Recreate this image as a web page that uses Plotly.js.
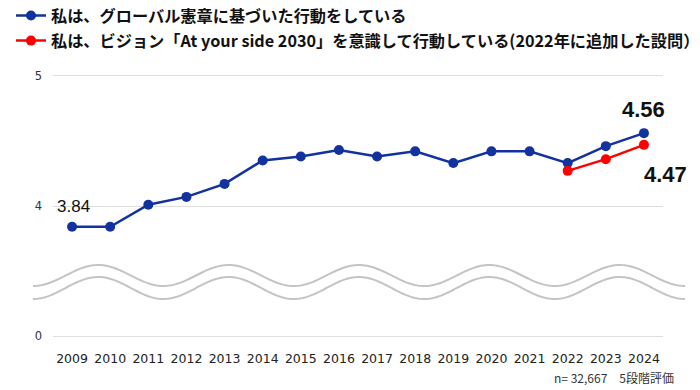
<!DOCTYPE html>
<html>
<head>
<meta charset="utf-8">
<script src="https://cdn.plot.ly/plotly-3.0.1.min.js"></script>
<style>html,body{margin:0;padding:0;background:#fff;}#chart{width:700px;height:390px;}</style>
</head>
<body>
<div id="chart"></div>
<script>
const years = [2009,2010,2011,2012,2013,2014,2015,2016,2017,2018,2019,2020,2021,2022,2023,2024];
const charterValues = [3.84,3.84,4.01,4.07,4.17,4.35,4.38,4.43,4.38,4.42,4.33,4.42,4.42,4.33,4.46,4.56];
const visionYears = [2022,2023,2024];
const visionValues = [4.27,4.36,4.47];
const charterName = '私は、グローバル憲章に基づいた行動をしている';
const visionName = '私は、ビジョン「At your side 2030」を意識して行動している(2022年に追加した設問）';
const yTickVals = [3,4,5];
const yTickText = ['0','4','5'];
const footnote = 'n= 32,667　5段階評価';

const blue = '#1232a0';
const red = '#ff0000';

// plot-area geometry (pixels) used for paper-coordinate decorations
const W = 700, H = 390;
const M = {l:53, r:37, t:72, b:50, autoexpand:false};
const pw = W - M.l - M.r, ph = H - M.t - M.b;
function px2x(p){ return (p - M.l)/pw; }
function px2y(p){ return (H - M.b - p)/ph; }

// axis-break wave decoration
function wavePath(cy, amp, x0, x1, period){
  let d = '';
  for (let p = x0; p <= x1 + 0.01; p += 2){
    const yy = cy + amp*Math.cos(2*Math.PI*(p - x0)/period);
    d += (d ? ' L ' : 'M ') + px2x(p).toFixed(5) + ',' + px2y(yy).toFixed(5);
  }
  return d;
}
const waveColor = '#c4c4c4';
const shapes = [
  {type:'path', xref:'paper', yref:'paper', path: wavePath(275.5, 10.5, 33, 685, 130.4), line:{color:waveColor, width:2}},
  {type:'path', xref:'paper', yref:'paper', path: wavePath(288, 11, 33, 685, 130.4), line:{color:waveColor, width:2}}
];

const traces = [
  {x: years, y: charterValues, name: charterName, type:'scatter', mode:'lines+markers',
   line:{color:blue, width:2.5}, marker:{color:blue, size:10}, hoverinfo:'x+y', legendgroup:'a'},
  {x: visionYears, y: visionValues, name: visionName, type:'scatter', mode:'lines+markers',
   line:{color:red, width:2.5}, marker:{color:red, size:10}, hoverinfo:'x+y', legendgroup:'b'}
];

const last = charterValues.length - 1;
const annotations = [
  {x: years[0], y: charterValues[0], text: charterValues[0].toFixed(2), showarrow:false, yshift:20, xshift:1,
   font:{family:'Liberation Sans, Arial, sans-serif', size:17, color:'#111'}},
  {x: years[last], y: charterValues[last], text: charterValues[last].toFixed(2), showarrow:false, yshift:24,
   font:{family:'Liberation Sans, Arial, sans-serif', size:22, color:'#111', weight:'bold'}},
  {x: visionYears[visionYears.length-1], y: visionValues[visionValues.length-1], text: visionValues[visionValues.length-1].toFixed(2), showarrow:false, yshift:-30, xshift:22,
   font:{family:'Liberation Sans, Arial, sans-serif', size:22, color:'#111', weight:'bold'}},
  {xref:'paper', yref:'paper', x: px2x(676), y: px2y(377), xanchor:'right', yanchor:'middle', text: footnote, showarrow:false,
   font:{family:'Noto Sans CJK JP, sans-serif', size:12, color:'#333'}}
];

const layout = {
  width: W, height: H,
  margin: M,
  paper_bgcolor:'#fff', plot_bgcolor:'#fff',
  showlegend:true,
  legend:{x: px2x(11), y: px2y(-1.5), xanchor:'left', yanchor:'top', xref:'paper', yref:'paper',
    font:{family:'Noto Sans CJK JP, sans-serif', size:16.2, color:'#111', weight:'bold'},
    bgcolor:'rgba(0,0,0,0)', tracegroupgap:1, traceorder:'grouped'},
  xaxis:{type:'linear', range:[2008.5, 2024.5], tickvals: years, ticktext: years.map(String),
    showgrid:false, zeroline:false, showline:false, ticks:'', ticklabelstandoff:9,
    tickfont:{family:'DejaVu Sans, sans-serif', size:12.5, color:'#222'}, fixedrange:true},
  yaxis:{range:[2.97,5.03], tickvals:yTickVals, ticktext:yTickText, showgrid:true, gridcolor:'#dedede', gridwidth:1,
    zeroline:false, showline:false, ticks:'', ticklabelstandoff:10,
    tickfont:{family:'DejaVu Sans, sans-serif', size:11.5, color:'#333'}, fixedrange:true},
  shapes: shapes,
  annotations: annotations
};

Plotly.newPlot('chart', traces, layout, {displayModeBar:false, staticPlot:true});
</script>
</body>
</html>
